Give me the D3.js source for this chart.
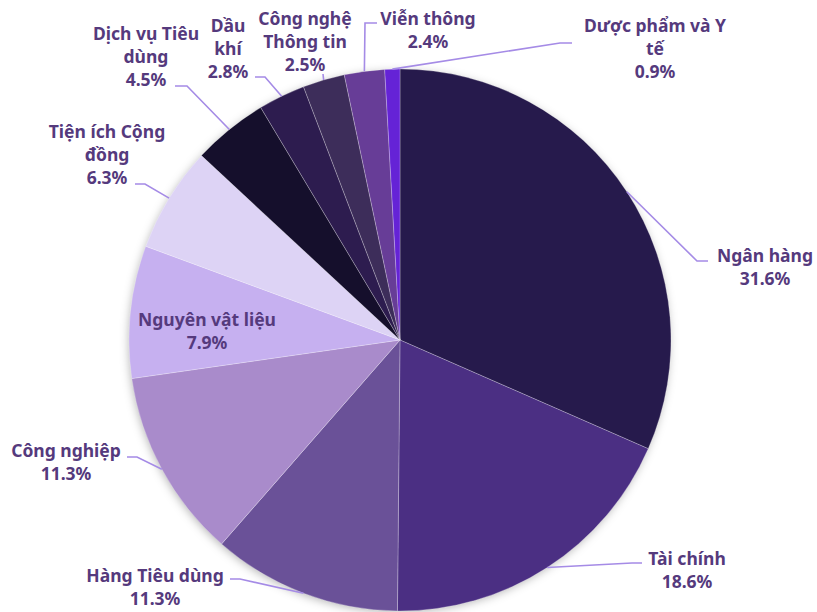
<!DOCTYPE html>
<html>
<head>
<meta charset="utf-8">
<script src="https://cdnjs.cloudflare.com/ajax/libs/d3/7.8.5/d3.min.js"></script>
<style>
  html, body { margin: 0; padding: 0; background: #fff; }
  svg { display: block; }
</style>
</head>
<body>
<svg width="817" height="612"></svg>
<script>
// sectors, clockwise from 12 o'clock
var sectors = ["Ngân hàng", "Tài chính", "Hàng Tiêu dùng", "Công nghiệp", "Nguyên vật liệu",
  "Tiện ích Cộng đồng", "Dịch vụ Tiêu dùng", "Dầu khí", "Công nghệ Thông tin", "Viễn thông", "Dược phẩm và Y tế"];
var shares = [31.6, 18.6, 11.3, 11.3, 7.9, 6.3, 4.5, 2.8, 2.5, 2.4, 0.9];
var colors = ["#261a4c", "#4b2f83", "#6a5198", "#a98bcb", "#c6b0f0", "#ddd3f5",
  "#150f2c", "#2d1c4f", "#3d2d5a", "#673d97", "#6523d6"];
// label text is wrapped the way the original wraps it
var labelLines = [["Ngân hàng"], ["Tài chính"], ["Hàng Tiêu dùng"], ["Công nghiệp"], ["Nguyên vật liệu"],
  ["Tiện ích Cộng", "đồng"], ["Dịch vụ Tiêu", "dùng"], ["Dầu", "khí"], ["Công nghệ", "Thông tin"],
  ["Viễn thông"], ["Dược phẩm và Y", "tế"]];

var svg = d3.select("svg"),
    width = +svg.attr("width"),
    height = +svg.attr("height");

var cx = 400, cy = 340, radius = 271;
var lineH = 23;

// label layout: text centre x, first baseline y, connector end [x,y] and elbow [x,y] (null = inside label)
var layout = [
  { x: 765, y: 262, end: [708, 261], elbow: [697, 261] },
  { x: 687, y: 565, end: [642, 563], elbow: [632, 563] },
  { x: 155, y: 582, end: [230, 579], elbow: [240, 579] },
  { x: 66,  y: 457, end: [127, 457], elbow: [137, 457] },
  { x: 207, y: 326, end: null },
  { x: 107, y: 138, end: [135, 184], elbow: [145, 184] },
  { x: 146, y: 40,  end: [175, 86],  elbow: [187, 86] },
  { x: 228, y: 32,  end: [255, 77],  elbow: [265, 77] },
  { x: 305, y: 25,  end: [323, 74],  elbow: [323, 74] },
  { x: 428, y: 25,  end: [377, 23],  elbow: [365, 23] },
  { x: 655, y: 32,  end: [572, 43],  elbow: [560, 43] }
];

var defs = svg.append("defs");
var f = defs.append("filter").attr("id", "shadow")
  .attr("x", "-10%").attr("y", "-10%").attr("width", "120%").attr("height", "120%");
f.append("feDropShadow").attr("dx", -1).attr("dy", 2).attr("stdDeviation", 5)
  .attr("flood-color", "#000").attr("flood-opacity", 0.3);

var pie = d3.pie().sort(null).value(function(d) { return d; });
var arcs = pie(shares);
var arc = d3.arc().innerRadius(0).outerRadius(radius);

var g = svg.append("g").attr("transform", "translate(" + cx + "," + cy + ")");

g.append("circle").attr("r", radius - 1).attr("fill", "#fff").attr("filter", "url(#shadow)");

g.selectAll("path.slice")
  .data(arcs)
  .enter().append("path")
  .attr("class", "slice")
  .attr("d", arc)
  .attr("fill", function(d, i) { return colors[i]; })
  .attr("stroke", "rgba(255,255,255,0.35)")
  .attr("stroke-width", 0.7)
  .attr("stroke-linejoin", "round");

// connectors
var edgePoint = function(d) {
  var a = (d.startAngle + d.endAngle) / 2;
  return [cx + radius * Math.sin(a), cy - radius * Math.cos(a)];
};

svg.append("g").selectAll("path")
  .data(arcs.filter(function(d, i) { return layout[i].end; }))
  .enter().append("path")
  .attr("d", function(d) {
    var L = layout[d.index], p = edgePoint(d);
    return "M" + p[0] + "," + p[1] + "L" + L.elbow[0] + "," + L.elbow[1] + "L" + L.end[0] + "," + L.end[1];
  })
  .attr("fill", "none")
  .attr("stroke", "#a58be6")
  .attr("stroke-width", 1.6);

// labels
var labels = svg.append("g")
  .attr("font-family", "'Noto Sans', sans-serif")
  .attr("font-weight", "bold")
  .attr("font-size", 17.5)
  .attr("fill", "#553a7d")
  .attr("text-anchor", "middle");

labels.selectAll("text")
  .data(arcs)
  .enter().append("text")
  .attr("x", function(d) { return layout[d.index].x; })
  .attr("y", function(d) { return layout[d.index].y; })
  .each(function(d) {
    var t = d3.select(this), L = layout[d.index];
    var lines = labelLines[d.index].concat([d3.format(".1f")(shares[d.index]) + "%"]);
    lines.forEach(function(s, k) {
      t.append("tspan").attr("x", L.x).attr("y", L.y + k * lineH).text(s);
    });
  });
</script>
</body>
</html>
